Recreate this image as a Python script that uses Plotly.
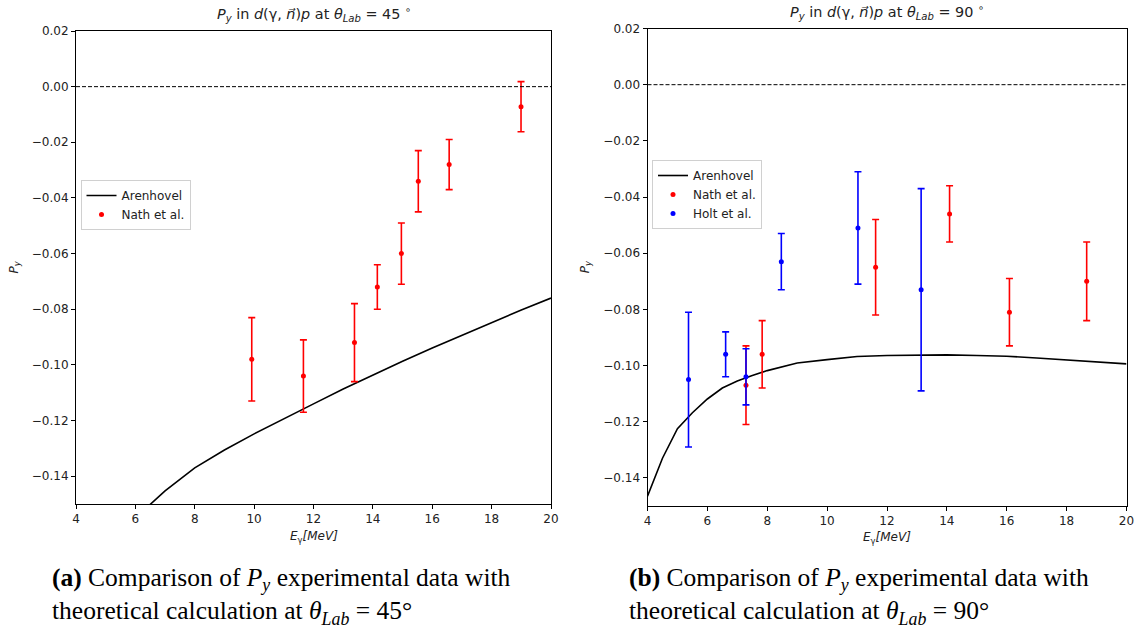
import plotly.graph_objects as go

# ---------------- data ----------------
# Left panel: theta_Lab = 45 deg
theory45_E = [4, 4.5, 5, 5.5, 6, 6.5, 7, 8, 9, 10, 11, 12, 13, 14, 15, 16, 17, 18, 19, 20]
theory45_P = [-0.180, -0.172, -0.166, -0.160, -0.155, -0.1503, -0.1453, -0.137, -0.1306, -0.1248,
              -0.1193, -0.114, -0.1087, -0.1036, -0.0987, -0.0939, -0.0893, -0.0847, -0.0803, -0.0760]
nath45_E = [9.92, 11.66, 13.38, 14.15, 14.96, 15.53, 16.57, 18.99]
nath45_P = [-0.098, -0.104, -0.092, -0.072, -0.060, -0.034, -0.028, -0.0072]
nath45_err = [0.015, 0.013, 0.014, 0.008, 0.011, 0.011, 0.009, 0.009]

# Right panel: theta_Lab = 90 deg
theory90_E = [4, 4.5, 5, 5.5, 6, 6.5, 7, 7.5, 8, 9, 10, 11, 12, 13, 14, 15, 16, 17, 18, 19, 20]
theory90_P = [-0.1465, -0.1330, -0.1225, -0.1168, -0.1119, -0.1080, -0.1055, -0.1035, -0.1018,
              -0.0991, -0.0979, -0.0968, -0.0964, -0.0962, -0.0962, -0.0964, -0.0967, -0.0973,
              -0.0980, -0.0987, -0.0994]
nath90_E = [7.29, 7.83, 11.62, 14.09, 16.09, 18.67]
nath90_P = [-0.107, -0.096, -0.065, -0.046, -0.081, -0.070]
nath90_err = [0.014, 0.012, 0.017, 0.010, 0.012, 0.014]
holt90_E = [5.37, 6.61, 7.29, 8.47, 11.03, 13.14]
holt90_P = [-0.105, -0.096, -0.104, -0.063, -0.051, -0.073]
holt90_err = [0.024, 0.008, 0.010, 0.010, 0.020, 0.036]

x_range = [4, 20]
y_range = [-0.15, 0.02]
x_ticks = [4, 6, 8, 10, 12, 14, 16, 18, 20]
y_ticks = [0.02, 0.00, -0.02, -0.04, -0.06, -0.08, -0.10, -0.12, -0.14]
zero_level = 0.0

W, H = 1140, 630
FONT = "DejaVu Sans"
TXT = "#222"

fig = go.Figure()

def err(arr, color):
    return dict(type="data", array=arr, visible=True, color=color, thickness=1.6, width=3.5)

# left
fig.add_trace(go.Scatter(x=theory45_E, y=theory45_P, mode="lines", name="Arenhovel",
                         line=dict(color="black", width=1.6), xaxis="x", yaxis="y", legend="legend"))
fig.add_trace(go.Scatter(x=nath45_E, y=nath45_P, mode="markers", name="Nath et al.",
                         marker=dict(color="red", size=5), error_y=err(nath45_err, "red"),
                         xaxis="x", yaxis="y", legend="legend"))
# right
fig.add_trace(go.Scatter(x=theory90_E, y=theory90_P, mode="lines", name="Arenhovel",
                         line=dict(color="black", width=1.6), xaxis="x2", yaxis="y2", legend="legend2"))
fig.add_trace(go.Scatter(x=nath90_E, y=nath90_P, mode="markers", name="Nath et al.",
                         marker=dict(color="red", size=5), error_y=err(nath90_err, "red"),
                         xaxis="x2", yaxis="y2", legend="legend2"))
fig.add_trace(go.Scatter(x=holt90_E, y=holt90_P, mode="markers", name="Holt et al.",
                         marker=dict(color="blue", size=5), error_y=err(holt90_err, "blue"),
                         xaxis="x2", yaxis="y2", legend="legend2"))

# plot area geometry (pixels)
L1, R1, T1, B1 = 76, 551, 31, 504
L2, R2, T2, B2 = 647.5, 1126.5, 28.5, 506

def dom_x(a, b):
    return [a / W, b / W]

def dom_y(t, b):
    return [1 - b / H, 1 - t / H]

axis_common = dict(range=x_range, tickvals=x_ticks, ticks="outside", ticklen=4, tickwidth=1,
                   tickcolor="black", showline=True, linecolor="black", linewidth=1, mirror=True,
                   showgrid=False, zeroline=False, automargin=False,
                   tickfont=dict(family=FONT, size=12, color=TXT))
yaxis_common = dict(range=y_range, tickvals=y_ticks, tickformat=".2f", ticks="outside", ticklen=4,
                    tickwidth=1, tickcolor="black", showline=True, linecolor="black", linewidth=1,
                    mirror=True, showgrid=False, zeroline=False, automargin=False,
                    tickfont=dict(family=FONT, size=12, color=TXT))

legend_common = dict(xanchor="left", yanchor="top", bordercolor="#d0d0d0", borderwidth=1,
                     bgcolor="white", font=dict(family=FONT, size=12, color=TXT),
                     tracegroupgap=0, itemwidth=30)

fig.update_layout(
    width=W, height=H, margin=dict(l=0, r=0, t=0, b=0, pad=0, autoexpand=False),
    paper_bgcolor="white", plot_bgcolor="white",
    font=dict(family=FONT, color=TXT),
    xaxis=dict(domain=dom_x(L1, R1), anchor="y", **axis_common),
    yaxis=dict(domain=dom_y(T1, B1), anchor="x", **yaxis_common),
    xaxis2=dict(domain=dom_x(L2, R2), anchor="y2", **axis_common),
    yaxis2=dict(domain=dom_y(T2, B2), anchor="x2", **yaxis_common),
    legend=dict(x=80.5 / W, y=1 - 180 / H, **legend_common),
    legend2=dict(x=652 / W, y=1 - 160 / H, **legend_common),
    showlegend=True,
)

# dashed zero lines
for xr, yr in (("x", "y"), ("x2", "y2")):
    fig.add_shape(type="line", xref=xr, yref=yr, x0=x_range[0], x1=x_range[1],
                  y0=zero_level, y1=zero_level, line=dict(color="black", width=1, dash="4px,2px"))

# titles
def title_text(angle):
    return ("<i>P</i><sub><i>y</i></sub> in <i>d</i>(γ, <i>n⃗</i>)<i>p</i> at "
            "<i>θ</i><sub><i>Lab</i></sub> = " + angle + " <sup>∘</sup>")

ann = []
ann.append(dict(text=title_text("45"), x=(L1 + R1) / 2 / W, y=1 - 14 / H, xref="paper", yref="paper",
                showarrow=False, font=dict(family=FONT, size=14.4, color=TXT), xanchor="center", yanchor="middle"))
ann.append(dict(text=title_text("90"), x=(L2 + R2) / 2 / W, y=1 - 12 / H, xref="paper", yref="paper",
                showarrow=False, font=dict(family=FONT, size=14.4, color=TXT), xanchor="center", yanchor="middle"))
# axis titles
for cx, ty in (((L1 + R1) / 2, 537), ((L2 + R2) / 2, 538)):
    ann.append(dict(text="<i>E</i><sub>γ</sub><i>[MeV]</i>", x=cx / W, y=1 - ty / H, xref="paper", yref="paper",
                    showarrow=False, font=dict(family=FONT, size=12, color=TXT),
                    xanchor="center", yanchor="middle"))
for lx, cy in ((14, (T1 + B1) / 2), (586, (T2 + B2) / 2)):
    ann.append(dict(text="<i>P</i><sub><i>y</i></sub>", x=lx / W, y=1 - cy / H, xref="paper", yref="paper",
                    showarrow=False, textangle=-90, font=dict(family=FONT, size=12, color=TXT),
                    xanchor="center", yanchor="middle"))
# captions (two lines each, one text block)
SERIF = "Liberation Serif"
caps = [
    (50, "<b>(a)</b> Comparison of <i>P</i><sub><i>y</i></sub> experimental data with<br>"
         "theoretical calculation at <i>θ</i><sub><i>Lab</i></sub> = 45°"),
    (627, "<b>(b)</b> Comparison of <i>P</i><sub><i>y</i></sub> experimental data with<br>"
          "theoretical calculation at <i>θ</i><sub><i>Lab</i></sub> = 90°"),
]
for x0, txt in caps:
    ann.append(dict(text=txt, x=x0 / W, y=1 - 596 / H, xref="paper", yref="paper", showarrow=False,
                    align="left", font=dict(family=SERIF, size=25.5, color="black"),
                    xanchor="left", yanchor="middle"))

fig.update_layout(annotations=ann)
fig.write_html("out.html", config={"displayModeBar": False},
               post_script="document.body.style.margin='0';document.body.style.padding='0';"
                           "document.body.style.overflow='hidden';")
